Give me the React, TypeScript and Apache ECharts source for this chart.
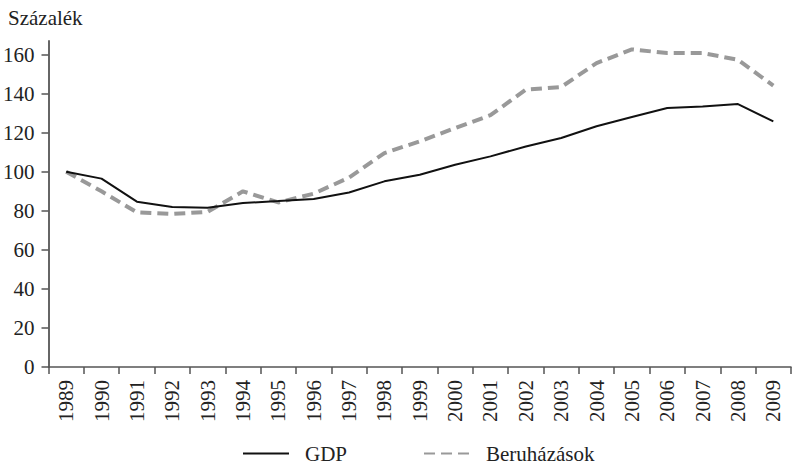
import React, { useEffect, useRef } from "react";
import * as echarts from "echarts";

const years = [
  "1989", "1990", "1991", "1992", "1993", "1994", "1995", "1996", "1997", "1998",
  "1999", "2000", "2001", "2002", "2003", "2004", "2005", "2006", "2007", "2008", "2009",
];
const gdp = [
  100, 96.5, 84.7, 82.0, 81.6, 84.0, 85.0, 86.1, 89.4, 95.1,
  98.5, 103.6, 107.9, 113.0, 117.3, 123.3, 128.1, 132.7, 133.5, 134.7, 125.8,
];
const beruhazasok = [
  100, 90.0, 79.2, 78.4, 79.5, 90.0, 84.3, 88.8, 97.0, 109.6,
  115.6, 122.4, 129.0, 142.1, 143.4, 155.7, 162.7, 160.8, 160.8, 157.4, 144.1,
];
const yTicks = [0, 20, 40, 60, 80, 100, 120, 140, 160];
const yAxisTitle = "Százalék";
const seriesNames = ["GDP", "Beruházások"];

const FONT = "Times New Roman, Liberation Serif, Tinos, serif";
const FS = 21;

export default function App() {
  const ref = useRef<HTMLDivElement>(null);
  useEffect(() => {
    if (!ref.current) return;
    const chart = echarts.init(ref.current, undefined, { renderer: "svg" });
    chart.setOption({
      animation: false,
      backgroundColor: "#ffffff",
      textStyle: { fontFamily: FONT },
      title: {
        text: yAxisTitle,
        left: 8,
        top: 7,
        padding: 0,
        textStyle: { fontFamily: FONT, fontSize: FS, fontWeight: "normal", color: "#222" },
      },
      legend: {
        top: 443,
        left: 242,
        padding: 0,
        itemWidth: 46,
        itemHeight: 14,
        itemGap: 76,
        itemStyle: { opacity: 0 },
        textStyle: { fontFamily: FONT, fontSize: FS, color: "#222", padding: [0, 0, 0, 11] },
        data: seriesNames.map((n) => ({ name: n })),
      },
      grid: { left: 48, right: 2, top: 41, bottom: 101, containLabel: false },
      xAxis: {
        type: "category",
        data: years,
        boundaryGap: true,
        axisLine: { show: true, lineStyle: { color: "#555", width: 1.5 } },
        axisTick: { show: true, length: 7, lineStyle: { color: "#555", width: 1.5 } },
        axisLabel: {
          rotate: 90,
          margin: 13,
          interval: 0,
          fontFamily: FONT,
          fontSize: FS,
          color: "#222",
        },
        splitLine: { show: false },
      },
      yAxis: {
        type: "value",
        min: 0,
        max: 167,
        axisLine: { show: true, lineStyle: { color: "#666", width: 2 } },
        axisTick: { show: true, length: 7, customValues: yTicks, lineStyle: { color: "#555", width: 1.5 } },
        axisLabel: {
          customValues: yTicks,
          margin: 14,
          fontFamily: FONT,
          fontSize: FS,
          color: "#222",
        },
        splitLine: { show: false },
      },
      series: [
        {
          name: seriesNames[0],
          type: "line",
          data: gdp,
          symbol: "none",
          lineStyle: { color: "#111", width: 2 },
          itemStyle: { color: "#111" },
          z: 3,
        },
        {
          name: seriesNames[1],
          type: "line",
          data: beruhazasok,
          symbol: "none",
          lineStyle: { color: "#999", width: 4, type: [11, 6] },
          itemStyle: { color: "#999" },
          z: 2,
        },
      ],
    });
    return () => chart.dispose();
  }, []);
  return (
    <div
      ref={ref}
      style={{ position: "fixed", left: 0, top: 0, width: 793, height: 468, background: "#fff" }}
    />
  );
}
